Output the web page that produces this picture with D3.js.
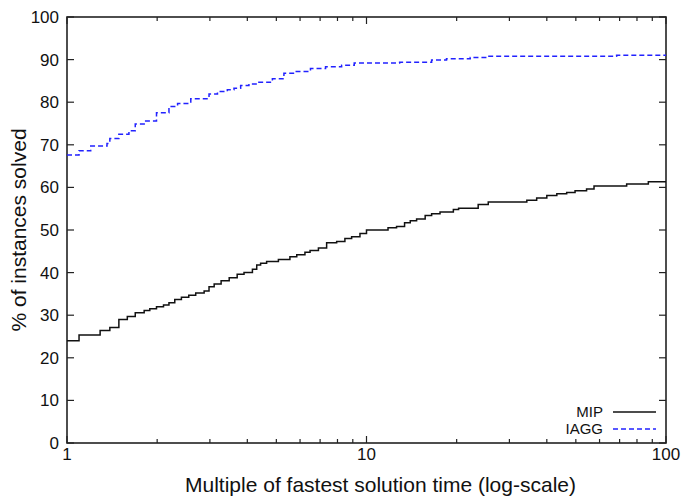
<!DOCTYPE html>
<html>
<head>
<meta charset="utf-8">
<script src="https://cdn.jsdelivr.net/npm/d3@7"></script>
<style>
  body { margin: 0; background: #fff; }
  text { font-family: "Liberation Sans", Arial, Helvetica, sans-serif; fill: #111; }
</style>
</head>
<body>
<svg id="chart"></svg>
<script>
// performance profile: step points (time ratio, % solved)
const mipX = [1, 1.097, 1.29, 1.39, 1.49, 1.59, 1.69, 1.81, 1.89, 1.99, 2.10, 2.19, 2.29, 2.41, 2.55,
  2.69, 2.87, 2.98, 3.10, 3.27, 3.48, 3.70, 3.90, 4.16, 4.30, 4.43, 4.64, 5.08, 5.55, 5.85,
  6.23, 6.48, 6.91, 7.36, 7.95, 8.47, 8.92, 9.51, 10.0, 11.8, 12.6, 13.4, 14.0, 14.7, 15.7,
  16.5, 17.6, 19.5, 20.3, 23.6, 25.5, 34.3, 37.0, 40.0, 43.2, 46.6, 49.7, 54.3, 57.5, 73.9, 87.3, 100];
const mipY = [24.0, 25.35, 26.4, 27.1, 29.0, 29.7, 30.6, 31.1, 31.5, 32.0, 32.4, 32.9, 33.7, 34.2, 34.7,
  35.2, 35.7, 36.7, 37.3, 38.1, 38.8, 39.6, 40.0, 40.8, 41.8, 42.2, 42.6, 43.1, 43.7, 44.2,
  44.8, 45.2, 45.8, 47.0, 47.3, 48.0, 48.4, 49.2, 50.0, 50.5, 50.8, 51.7, 52.2, 52.6, 53.4,
  53.8, 54.2, 54.8, 55.1, 56.0, 56.6, 57.0, 57.5, 58.1, 58.5, 58.8, 59.2, 59.6, 60.3, 60.8, 61.3, 61.3];

const iaggX = [1, 1.097, 1.20, 1.36, 1.39, 1.49, 1.61, 1.69, 1.81, 1.99, 2.19, 2.34, 2.59, 2.98, 3.18,
  3.43, 3.61, 3.80, 4.05, 4.32, 4.85, 5.3, 5.77, 6.5, 7.3, 8.26, 9.1, 12.9, 16.5, 18.5,
  22.2, 25.2, 68.4, 100];
const iaggY = [67.6, 68.6, 69.7, 70.3, 71.5, 72.5, 73.3, 74.9, 75.6, 77.5, 79.0, 79.7, 80.8, 81.9, 82.5,
  82.9, 83.3, 83.9, 84.3, 84.7, 85.5, 86.8, 87.2, 87.9, 88.3, 88.7, 89.2, 89.4, 89.9, 90.2,
  90.5, 90.8, 91.0, 91.0];

const yTicks = [0, 10, 20, 30, 40, 50, 60, 70, 80, 90, 100];
const xTicks = [1, 10, 100];
const seriesNames = ["MIP", "IAGG"];

const W = 682, H = 498;
const margin = { top: 17, right: 16, bottom: 55, left: 67 };
const width = W - margin.left - margin.right;
const height = H - margin.top - margin.bottom;

const svg = d3.select("#chart").attr("width", W).attr("height", H);
const chart = svg.append("g").attr("transform", `translate(${margin.left}, ${margin.top})`);

const x = d3.scaleLog().domain([1, 100]).range([0, width]);
const y = d3.scaleLinear().domain([0, 100]).range([height, 0]);

// minor ticks 2..9 per decade
const minorTicks = [];
[1, 10].forEach(dec => { for (let k = 2; k <= 9; k++) minorTicks.push(dec * k); });

const axisColor = "#222";

// frame
chart.append("rect")
  .attr("x", 0).attr("y", 0)
  .attr("width", width).attr("height", height)
  .attr("fill", "none")
  .attr("stroke", axisColor)
  .attr("stroke-width", 1.6);

// ticks drawn inward on all four sides
const tickG = chart.append("g").attr("stroke", axisColor).attr("stroke-width", 1.2);
yTicks.forEach(v => {
  tickG.append("line").attr("x1", 0).attr("x2", 7).attr("y1", y(v)).attr("y2", y(v));
  tickG.append("line").attr("x1", width).attr("x2", width - 7).attr("y1", y(v)).attr("y2", y(v));
});
xTicks.forEach(v => {
  tickG.append("line").attr("x1", x(v)).attr("x2", x(v)).attr("y1", height).attr("y2", height - 7);
  tickG.append("line").attr("x1", x(v)).attr("x2", x(v)).attr("y1", 0).attr("y2", 7);
});
minorTicks.forEach(v => {
  tickG.append("line").attr("x1", x(v)).attr("x2", x(v)).attr("y1", height).attr("y2", height - 4);
  tickG.append("line").attr("x1", x(v)).attr("x2", x(v)).attr("y1", 0).attr("y2", 4);
});

// tick labels
chart.append("g").selectAll("text")
  .data(yTicks).join("text")
  .attr("x", -8).attr("y", d => y(d))
  .attr("dy", "0.35em")
  .attr("text-anchor", "end")
  .attr("font-size", 17)
  .text(d => d);

chart.append("g").selectAll("text")
  .data(xTicks).join("text")
  .attr("x", d => x(d)).attr("y", height + 17)
  .attr("text-anchor", "middle")
  .attr("font-size", 17)
  .text(d => d);

// series
const line = d3.line()
  .x(d => x(d[0]))
  .y(d => y(d[1]))
  .curve(d3.curveStepAfter);

chart.append("path")
  .datum(d3.zip(mipX, mipY))
  .attr("d", line)
  .attr("fill", "none")
  .attr("stroke", "#111")
  .attr("stroke-width", 1.5);

chart.append("path")
  .datum(d3.zip(iaggX, iaggY))
  .attr("d", line)
  .attr("fill", "none")
  .attr("stroke", "#2222ff")
  .attr("stroke-width", 1.5)
  .attr("stroke-dasharray", "5,3");

// legend
const legStyles = [
  { stroke: "#111", dash: null },
  { stroke: "#2222ff", dash: "5,3" }
];
seriesNames.forEach((name, i) => {
  const ly = 395 + i * 17;
  chart.append("text")
    .attr("x", 536).attr("y", ly)
    .attr("dy", "0.35em")
    .attr("text-anchor", "end")
    .attr("font-size", 15)
    .text(name);
  chart.append("line")
    .attr("x1", 546).attr("x2", 589)
    .attr("y1", ly).attr("y2", ly)
    .attr("stroke", legStyles[i].stroke)
    .attr("stroke-width", 1.5)
    .attr("stroke-dasharray", legStyles[i].dash);
});

// axis labels
svg.append("text")
  .attr("x", margin.left + width / 2 + 14)
  .attr("y", 492)
  .attr("text-anchor", "middle")
  .attr("font-size", 21)
  .text("Multiple of fastest solution time (log-scale)");

svg.append("text")
  .attr("transform", "rotate(-90)")
  .attr("x", -(margin.top + height / 2))
  .attr("y", 26)
  .attr("text-anchor", "middle")
  .attr("font-size", 21)
  .text("% of instances solved");
</script>
</body>
</html>
